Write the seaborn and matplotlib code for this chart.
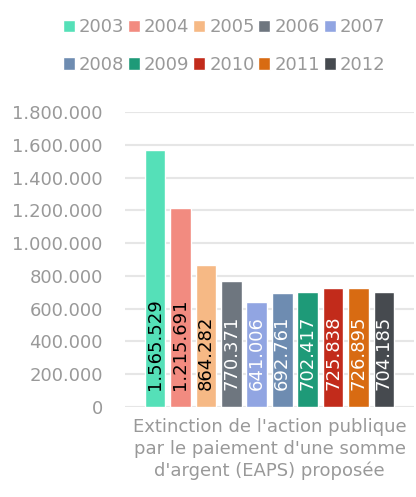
import matplotlib
matplotlib.use("Agg")
import matplotlib.pyplot as plt
import seaborn as sns
import pandas as pd

# data
category = "Extinction de l'action publique\npar le paiement d'une somme\nd'argent (EAPS) proposée"
years = ["2003", "2004", "2005", "2006", "2007", "2008", "2009", "2010", "2011", "2012"]
values = [1565529, 1215691, 864282, 770371, 641006, 692761, 702417, 725838, 726895, 704185]
colors = ["#55E0B8", "#F28B80", "#F6B985", "#6E767F", "#91A5E2",
          "#6E8CB1", "#1E9A78", "#C22B1B", "#D86B12", "#464A4F"]
label_colors = ["black", "black", "black", "white", "white",
                "white", "white", "white", "white", "white"]
y_ticks = [0, 200000, 400000, 600000, 800000, 1000000, 1200000, 1400000, 1600000, 1800000]

df = pd.DataFrame({"category": [category] * len(years), "year": years, "value": values})

sns.set_theme(style="white")
plt.rcParams["font.family"] = ["DejaVu Sans"]
text_grey = "#999999"
grid_grey = "#E6E6E6"


def fmt(v):
    return f"{v:,}".replace(",", ".")


fig = plt.figure(figsize=(4.16, 4.97), dpi=100)
ax = fig.add_axes([125 / 416, 1 - 407 / 497, 289 / 416, 295 / 497])

sns.barplot(data=df, x="category", y="value", hue="year", palette=colors,
            width=0.88, gap=0.19, saturation=1, ax=ax, legend=True)

ax.set_ylim(0, 1800000)
ax.set_yticks(y_ticks)
ax.set_yticklabels([fmt(t) for t in y_ticks])
ax.yaxis.grid(True, color=grid_grey, linewidth=1.5)
ax.set_axisbelow(True)
for s in ax.spines.values():
    s.set_visible(False)
ax.tick_params(axis="y", length=0, pad=16, labelsize=13, labelcolor=text_grey)
ax.tick_params(axis="x", length=0, pad=8, labelsize=13, labelcolor=text_grey)
for lbl in ax.get_xticklabels():
    lbl.set_linespacing(1.25)
ax.set_xlabel("")
ax.set_ylabel("")

# value labels at the base of each bar
for container, lc, v in zip(ax.containers, label_colors, values):
    bar = container.patches[0]
    ax.annotate(fmt(v), xy=(bar.get_x() + bar.get_width() / 2, 0),
                xytext=(0, 12), textcoords="offset points",
                rotation=90, ha="center", va="bottom", fontsize=13, color=lc)

# legend filled row by row: reorder for matplotlib's column-major layout
handles, labels = ax.get_legend_handles_labels()
ax.get_legend().remove()
ncol = 5
order = [r * ncol + c for c in range(ncol) for r in range(2)]
fig.legend([handles[i] for i in order], [labels[i] for i in order],
           loc="center", bbox_to_anchor=(224 / 416, 1 - 46 / 497),
           ncol=ncol, frameon=False, fontsize=13, labelcolor=text_grey,
           handlelength=0.67, handleheight=0.67, handletextpad=0.22,
           columnspacing=0.2, labelspacing=1.1, borderpad=0)

fig.savefig("out.png", dpi=100)
